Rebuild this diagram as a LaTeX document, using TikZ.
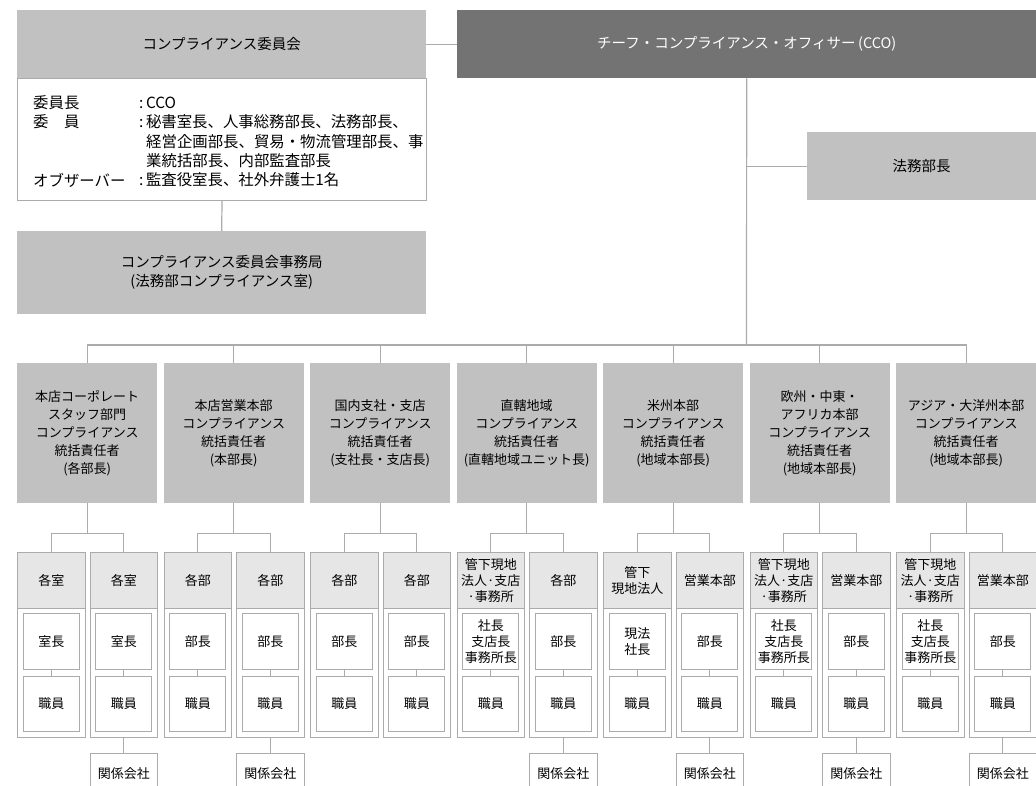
\documentclass[tikz,border=0pt]{standalone}
\usepackage{fontspec}
\setmainfont{Noto Sans CJK JP}
\usetikzlibrary{calc}
\definecolor{boxgray}{HTML}{C0C1C0}
\definecolor{ccogray}{HTML}{737373}
\definecolor{headgray}{HTML}{E6E6E6}
\definecolor{linegray}{HTML}{ABABAB}
\newcommand\fA{\fontsize{14.5}{19}\selectfont}
\newcommand\fBody{\fontsize{15.4}{19}\selectfont}
\newcommand\fB{\fontsize{13}{18}\selectfont}
\newcommand\fC{\fontsize{13}{16}\selectfont}
\tikzset{
  conn/.style={draw=linegray, line width=1.2pt},
  blk/.style={inner sep=0pt, align=center, anchor=north west},
  topbox/.style={blk, fill=boxgray, font=\fA},
  ccobox/.style={blk, fill=ccogray, text=white, font=\fA},
  topbody/.style={blk, fill=white, draw=linegray, line width=1pt},
  bodytxt/.style={inner sep=0pt, anchor=west, font=\fBody},
  colbox/.style={blk, fill=boxgray, font=\fB, minimum width=140, minimum height=140},
  subouter/.style={blk, fill=white, draw=linegray, line width=1pt, minimum width=67.5, minimum height=185},
  subhead/.style={blk, fill=headgray, draw=linegray, line width=1pt, font=\fC, minimum width=67.5, minimum height=56},
  innerbox/.style={blk, fill=white, draw=linegray, line width=1pt, font=\fC, minimum width=56},
  kkbox/.style={blk, fill=white, draw=linegray, line width=1pt, font=\fC, minimum width=67.5, minimum height=40},
}
\newcommand\subunit[4]{%
  \node[subouter] (#1) at (#2,552) {};
  \node[subhead] (#1h) at (#2,552) {#3};
  \node[innerbox, minimum height=56] (#1t) at ({#2+5.75},613) {#4};
  \node[innerbox, minimum height=55] (#1s) at ({#2+5.75},676) {職員};
  \draw[conn, line width=1pt] (#1t.south) -- (#1s.north);
}
\begin{document}
\begin{tikzpicture}[x=1pt,y=-1pt]
\useasboundingbox (0,0) rectangle (1036,786);
\clip (0,0) rectangle (1036,786);

% top part
\node[topbody, minimum width=409, minimum height=122] (body) at (17,78) {};
\node[topbox, minimum width=409, minimum height=68] (iin) at (17,10) {コンプライアンス委員会};
\node[ccobox, minimum width=579, minimum height=68] (cco) at (457,10) {チーフ・コンプライアンス・オフィサー\,(CCO)};
\node[topbox, minimum width=229, minimum height=68] (houmu) at (807,132) {法務部長};
\node[topbox, minimum width=409, minimum height=83] (jimu) at (17,231) {コンプライアンス委員会事務局\\(法務部コンプライアンス室)};

\node[bodytxt] (l1) at (33,103) {委員長};
\node[bodytxt] (l2) at (33,122) {委　員};
\node[bodytxt] (l3) at (33,180) {オブザーバー};
\node[bodytxt] (r1) at (139,103) {:\,CCO};
\node[bodytxt] (r2) at (139,122) {:\,秘書室長、人事総務部長、法務部長、};
\node[bodytxt] (r3) at (146,142) {経営企画部長、貿易・物流管理部長、事};
\node[bodytxt] (r4) at (146,161) {業統括部長、内部監査部長};
\node[bodytxt] (r5) at (139,180) {:\,監査役室長、社外弁護士1名};

\draw[conn] (iin.east) -- (cco.west);
\draw[conn] (body.south) -- (jimu.north);
\coordinate (bus) at (746.5,345);
\draw[conn] (cco.south) -- (bus);
\draw[conn] (houmu.west) -- (houmu.west -| bus);

% columns
\node[colbox] (c0) at (17,363) {本店コーポレート\\スタッフ部門\\コンプライアンス\\統括責任者\\(各部長)};
\node[colbox] (c1) at (163.5,363) {本店営業本部\\コンプライアンス\\統括責任者\\(本部長)};
\node[colbox] (c2) at (310,363) {国内支社・支店\\コンプライアンス\\統括責任者\\(支社長・支店長)};
\node[colbox] (c3) at (456.5,363) {直轄地域\\コンプライアンス\\統括責任者\\(直轄地域ユニット長)};
\node[colbox] (c4) at (603,363) {米州本部\\コンプライアンス\\統括責任者\\(地域本部長)};
\node[colbox] (c5) at (749.5,363) {欧州・中東・\\アフリカ本部\\コンプライアンス\\統括責任者\\(地域本部長)};
\node[colbox] (c6) at (896,363) {アジア・大洋州本部\\コンプライアンス\\統括責任者\\(地域本部長)};

\draw[conn] (c0.north) |- (bus) -| (c6.north);
\foreach \i in {1,...,5} \draw[conn] (c\i.north) -- (c\i.north |- bus);

% sub units
\subunit{ua0}{17}{各室}{室長}
\subunit{ub0}{89.5}{各室}{室長}
\subunit{ua1}{163.5}{各部}{部長}
\subunit{ub1}{236}{各部}{部長}
\subunit{ua2}{310}{各部}{部長}
\subunit{ub2}{382.5}{各部}{部長}
\subunit{ua3}{456.5}{管下現地\\法人·支店\\·事務所}{社長\\支店長\\事務所長}
\subunit{ub3}{529}{各部}{部長}
\subunit{ua4}{603}{管下\\現地法人}{現法\\社長}
\subunit{ub4}{675.5}{営業本部}{部長}
\subunit{ua5}{749.5}{管下現地\\法人·支店\\·事務所}{社長\\支店長\\事務所長}
\subunit{ub5}{822}{営業本部}{部長}
\subunit{ua6}{896}{管下現地\\法人·支店\\·事務所}{社長\\支店長\\事務所長}
\subunit{ub6}{968.5}{営業本部}{部長}

\foreach \i in {0,...,6} {
  \coordinate (br\i) at ([yshift=-30pt]c\i.south);
  \draw[conn] (c\i.south) -- (br\i);
  \draw[conn] (ua\i.north) |- (br\i) -| (ub\i.north);
}

% affiliated companies
\node[kkbox] (kk0) at (89.5,753) {関係会社};
\node[kkbox] (kk1) at (236,753) {関係会社};
\node[kkbox] (kk3) at (529,753) {関係会社};
\node[kkbox] (kk4) at (675.5,753) {関係会社};
\node[kkbox] (kk5) at (822,753) {関係会社};
\node[kkbox] (kk6) at (968.5,753) {関係会社};
\foreach \i in {0,1,3,4,5,6} \draw[conn] (ub\i.south) -- (kk\i.north);
\end{tikzpicture}
\end{document}
